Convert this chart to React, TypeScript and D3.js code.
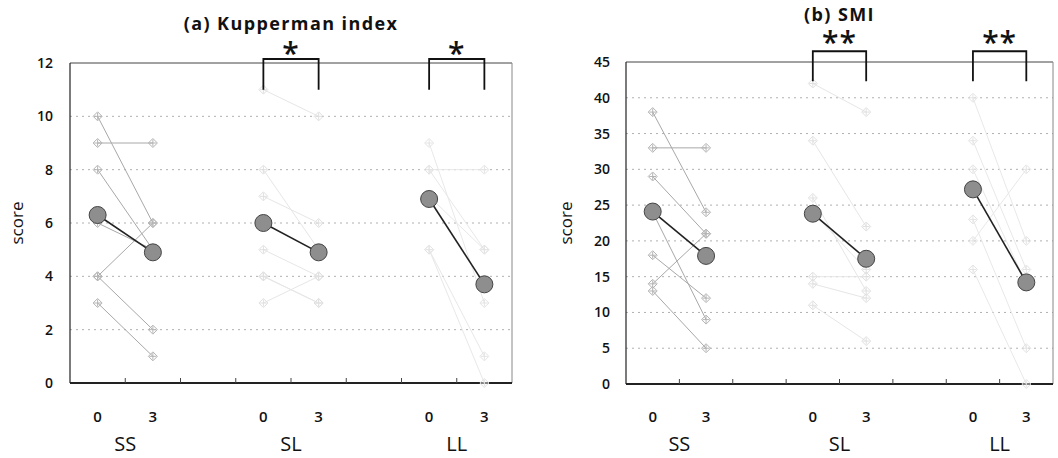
import { useEffect } from 'react';
import * as d3 from 'd3';

// x categories: month 0 / 3 per group, blank spacer between groups
const categories = ['0', '3', '', '0', '3', '', '0', '3'];
const groups = ['SS', 'SL', 'LL'];

// (a) Kupperman index, individual [month0, month3] pairs
const kuppermanSS: [number, number][] = [[10, 6], [9, 9], [8, 5], [6, 5], [4, 6], [4, 2], [3, 1]];
const kuppermanSL: [number, number][] = [[11, 10], [8, 5], [7, 6], [5, 4], [4, 3], [4, 3], [3, 4]];
const kuppermanLL: [number, number][] = [[8, 5], [8, 8], [5, 1], [5, 0], [7, 5], [9, 3]];
const kuppermanMeans: [number, number][] = [[6.3, 4.9], [6.0, 4.9], [6.9, 3.7]];
const kuppermanTicks = [0, 2, 4, 6, 8, 10, 12];

// (b) SMI
const smiSS: [number, number][] = [[38, 24], [33, 33], [29, 21], [24, 9], [18, 12], [14, 21], [13, 5]];
const smiSL: [number, number][] = [[42, 38], [34, 22], [24, 16], [15, 15], [14, 12], [11, 6], [26, 13]];
const smiLL: [number, number][] = [[40, 20], [34, 16], [30, 14], [23, 5], [16, 0], [20, 30]];
const smiMeans: [number, number][] = [[24.1, 17.9], [23.8, 17.5], [27.2, 14.2]];
const smiTicks = [0, 5, 10, 15, 20, 25, 30, 35, 40, 45];

const FONT = "'Open Sans', 'DejaVu Sans', sans-serif";

type PanelProps = {
  title: string;
  titleY: number;
  individuals: [number, number][][];
  means: [number, number][];
  ticks: number[];
  yMax: number;
  left: number;
  right: number;
  top: number;
  bottom: number;
  labelRight: number;
  scoreX: number;
  stars: string;
  starY: number;
  bracketTop: number;
  bracketBottom: number;
};

function Marker({ x, y, color }: { x: number; y: number; color: string }) {
  const r = 4.5;
  return (
    <g transform={`translate(${x},${y})`} stroke={color} fill="none" strokeWidth={1}>
      <path d={`M0,${-r}L${r},0L0,${r}L${-r},0Z`} />
      <path d={`M${-r + 1},0H${r - 1}M0,${-r + 1}V${r - 1}`} />
    </g>
  );
}

function Panel(p: PanelProps) {
  const x = d3
    .scaleBand<number>()
    .domain(d3.range(categories.length))
    .range([p.left, p.right]);
  const y = d3.scaleLinear().domain([0, p.yMax]).range([p.bottom, p.top]);
  const cx = (i: number) => (x(i) ?? 0) + x.bandwidth() / 2;
  const line = d3
    .line<[number, number]>()
    .x(d => d[0])
    .y(d => d[1]);
  const groupStart = [0, 3, 6];
  const lineColors = ['#a8a8a8', '#e6e6e6', '#e8e8e8'];
  const markColors = ['#b4b4b4', '#e0e0e0', '#e4e4e4'];

  return (
    <g fontFamily={FONT}>
      {/* grid */}
      {p.ticks.slice(1, -1).map(t => (
        <line
          key={'g' + t}
          x1={p.left}
          x2={p.right}
          y1={y(t)}
          y2={y(t)}
          stroke="#b0b0b0"
          strokeDasharray="2,4"
          strokeWidth={1}
        />
      ))}
      {/* frame */}
      <line x1={p.left} x2={p.right} y1={y(p.yMax)} y2={y(p.yMax)} stroke="#444" strokeWidth={1} />
      <line x1={p.right} x2={p.right} y1={y(p.yMax)} y2={y(0)} stroke="#888" strokeWidth={1} />
      <line x1={p.left} x2={p.left} y1={y(p.yMax)} y2={y(0)} stroke="#222" strokeWidth={1.2} />
      <line x1={p.left} x2={p.right} y1={y(0)} y2={y(0)} stroke="#222" strokeWidth={1.8} />
      {d3.range(1, categories.length).map(i => (
        <line key={'t' + i} x1={x(i)} x2={x(i)} y1={y(0)} y2={y(0) - 5} stroke="#444" />
      ))}

      {/* y tick labels */}
      {p.ticks.map(t => (
        <text
          key={'yl' + t}
          x={p.labelRight}
          y={y(t)}
          dy="0.36em"
          textAnchor="end"
          fontSize={14}
          fontWeight={600}
          fill="#111"
        >
          {t}
        </text>
      ))}
      <text
        transform={`translate(${p.scoreX},${(p.top + p.bottom) / 2}) rotate(-90)`}
        textAnchor="middle"
        fontSize={17}
        fill="#111"
      >
        score
      </text>

      {/* x labels */}
      {categories.map((c, i) => (
        <text key={'xl' + i} x={cx(i)} y={422} textAnchor="middle" fontSize={15} fontWeight={600} fill="#111">
          {c}
        </text>
      ))}
      {groups.map((g, gi) => (
        <text
          key={'gl' + g}
          x={(cx(groupStart[gi]) + cx(groupStart[gi] + 1)) / 2}
          y={451}
          textAnchor="middle"
          fontSize={20}
          fill="#111"
        >
          {g}
        </text>
      ))}

      {/* individuals, faint groups first */}
      {[2, 1, 0].map(gi => {
        const i0 = groupStart[gi];
        return (
          <g key={'ind' + gi}>
            {p.individuals[gi].map((d, k) => (
              <path
                key={'l' + k}
                d={line([[cx(i0), y(d[0])], [cx(i0 + 1), y(d[1])]]) ?? ''}
                stroke={lineColors[gi]}
                fill="none"
                strokeWidth={1}
              />
            ))}
            {p.individuals[gi].map((d, k) => (
              <g key={'m' + k}>
                <Marker x={cx(i0)} y={y(d[0])} color={markColors[gi]} />
                <Marker x={cx(i0 + 1)} y={y(d[1])} color={markColors[gi]} />
              </g>
            ))}
          </g>
        );
      })}

      {/* means */}
      {p.means.map((m, gi) => {
        const i0 = groupStart[gi];
        return (
          <g key={'mean' + gi}>
            <path
              d={line([[cx(i0), y(m[0])], [cx(i0 + 1), y(m[1])]]) ?? ''}
              stroke="#222"
              strokeWidth={1.6}
              fill="none"
            />
            <circle cx={cx(i0)} cy={y(m[0])} r={8.5} fill="#8e8e8e" stroke="#444" strokeWidth={1} />
            <circle cx={cx(i0 + 1)} cy={y(m[1])} r={8.5} fill="#8e8e8e" stroke="#444" strokeWidth={1} />
          </g>
        );
      })}

      {/* significance brackets on SL and LL */}
      {[1, 2].map(gi => {
        const a = cx(groupStart[gi]);
        const b = cx(groupStart[gi] + 1);
        return (
          <g key={'br' + gi}>
            <path
              d={`M${a},${y(p.bracketBottom)}V${y(p.bracketTop)}H${b}V${y(p.bracketBottom)}`}
              stroke="#111"
              strokeWidth={1.8}
              fill="none"
            />
            <text
              x={(a + b) / 2}
              y={p.starY}
              textAnchor="middle"
              fontSize={30}
              fontWeight={600}
              fill="#111"
              letterSpacing={1}
            >
              {p.stars}
            </text>
          </g>
        );
      })}

      <text
        x={(p.left + p.right) / 2}
        y={p.titleY}
        textAnchor="middle"
        fontSize={18}
        fontWeight={700}
        fill="#111"
        letterSpacing={1.4}
      >
        {p.title}
      </text>
    </g>
  );
}

export default function App() {
  useEffect(() => {
    document.body.style.margin = '0';
  }, []);
  return (
    <svg width={1058} height={458} style={{ display: 'block', background: '#fff' }}>
      <Panel
        title="(a) Kupperman index"
        titleY={30}
        individuals={[kuppermanSS, kuppermanSL, kuppermanLL]}
        means={kuppermanMeans}
        ticks={kuppermanTicks}
        yMax={12}
        left={70}
        right={512}
        top={63}
        bottom={383}
        labelRight={53}
        scoreX={23}
        stars="*"
        starY={64}
        bracketTop={12.15}
        bracketBottom={11}
      />
      <Panel
        title="(b) SMI"
        titleY={21}
        individuals={[smiSS, smiSL, smiLL]}
        means={smiMeans}
        ticks={smiTicks}
        yMax={45}
        left={626}
        right={1053}
        top={62}
        bottom={384}
        labelRight={610}
        scoreX={572}
        stars="**"
        starY={53}
        bracketTop={46.5}
        bracketBottom={42.3}
      />
    </svg>
  );
}
